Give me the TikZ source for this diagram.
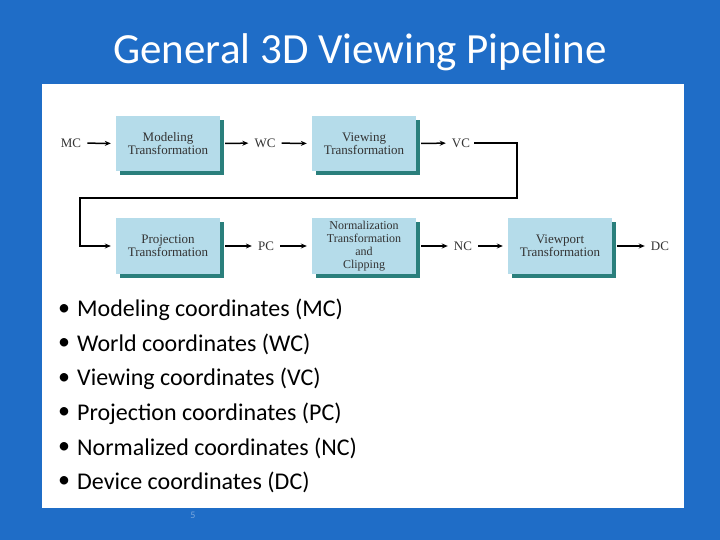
\documentclass[tikz,border=0pt]{standalone}
\usepackage{fontspec}
\setmainfont{Carlito}
\newfontfamily\ser{Liberation Serif}
\usetikzlibrary{arrows.meta}
\begin{document}
\begin{tikzpicture}[x=1pt,y=-1pt,
 box/.style={fill=boxc,minimum width=104pt,minimum height=55pt,inner sep=0pt,align=center,font=\ser\fontsize{13}{13}\selectfont,text=black!80},
 lab/.style={font=\ser\fontsize{13}{13}\selectfont,text=black!80,inner sep=1pt},
 arr/.style={-{Stealth[length=6pt,width=5pt]},line width=1.5pt,shorten <=5pt,shorten >=5pt},
 bul/.style={anchor=west,font=\fontsize{24}{24}\selectfont,text=black,inner sep=0pt}]
\definecolor{bg}{HTML}{1F6DC7}
\definecolor{boxc}{HTML}{B5DCEA}
\definecolor{shad}{HTML}{2A7F7C}
\fill[bg] (0,0) rectangle (720,540);
\useasboundingbox (0,0) rectangle (720,540);
\fill[white] (42,84) rectangle (684,508);
\node[text=white,font=\fontsize{43}{43}\selectfont] (title) at (360,52) {General 3D Viewing Pipeline};
\foreach \n/\x/\y in {m/168/144,v/364/144,p/168/246,n/364/246,w/560/246}{
 \fill[shad] (\x-52+4,\y-27.5+4) rectangle (\x+52+4,\y+27.5+4);}
\node[box] (mod) at (168,144) {Modeling\\Transformation};
\node[box] (vie) at (364,144) {Viewing\\Transformation};
\node[box] (pro) at (168,246) {Projection\\Transformation};
\node[box,font=\ser\fontsize{12}{13}\selectfont] (nor) at (364,246) {Normalization\\Transformation\\and\\Clipping};
\node[box] (vp) at (560,246) {Viewport\\Transformation};
\node[lab] (mc) at (71,143) {MC};
\node[lab] (wc) at (265,143) {WC};
\node[lab] (vc) at (461,143) {VC};
\node[lab] (pc) at (266,246) {PC};
\node[lab] (nc) at (463,246) {NC};
\node[lab] (dc) at (660,246) {DC};
\draw[arr] (mc) -- (mod);
\draw[arr] (mod) -- (wc);
\draw[arr] (wc) -- (vie);
\draw[arr] (vie) -- (vc);
\draw[arr,shorten <=3pt] (vc.east) -- (517,143) -- (517,198) -- (80,198) -- (80,246) -- (pro.west);
\draw[arr] (pro) -- (pc);
\draw[arr] (pc) -- (nor);
\draw[arr] (nor) -- (nc);
\draw[arr] (nc) -- (vp);
\draw[arr] (vp) -- (dc);
\foreach \t [count=\i] in {Modeling coordinates (MC),World coordinates (WC),Viewing coordinates (VC),Projection coordinates (PC),Normalized coordinates (NC),Device coordinates (DC)}{
 \node[bul] (b\i) at (77,310+34.5*\i-34.5) {\t};
 \node[bul,anchor=center] (d\i) at (64,310+34.5*\i-34.5) {\textbullet};}
\node[text=bg!60,font=\fontsize{10}{10}\selectfont] (num) at (193,515) {5};
\end{tikzpicture}
\end{document}
